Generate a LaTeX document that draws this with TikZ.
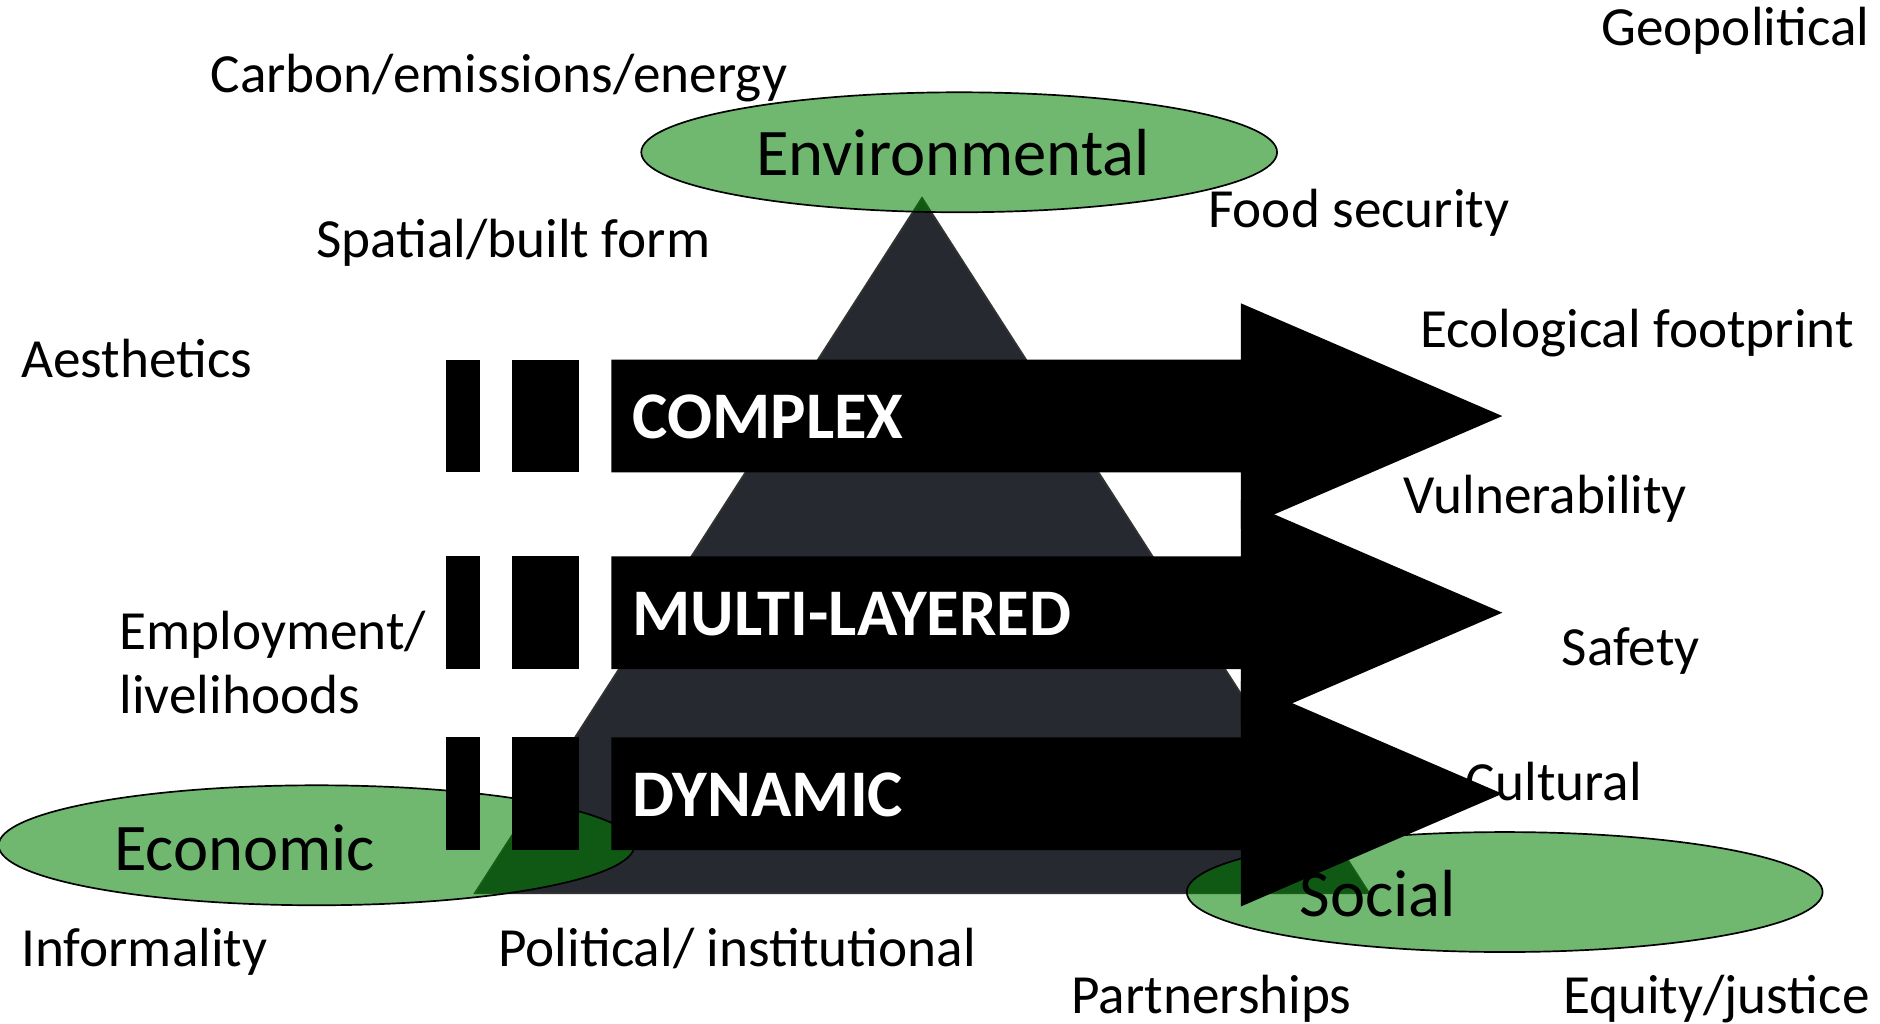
\documentclass[tikz,border=0pt]{standalone}
\usepackage{fontspec}
\setmainfont{Carlito}
\usetikzlibrary{shapes.geometric}

\definecolor{pyramid}{RGB}{38,41,48}
\definecolor{leafgreen}{RGB}{0,128,0}

\tikzset{
  sphere/.style={ellipse, draw=black, thin, fill=leafgreen, fill opacity=0.56,
    inner sep=0pt, minimum width=5.3cm, minimum height=1cm},
  factor/.style={anchor=base west, inner sep=0pt, font=\fontsize{13.1}{15}\selectfont},
  pillar/.style={anchor=base, inner sep=0pt, font=\fontsize{15.8}{18}\selectfont},
  barlabel/.style={anchor=base west, inner sep=0pt, text=white,
    font=\bfseries\fontsize{15.8}{18}\selectfont}
}

\begin{document}
\begin{tikzpicture}[x=0.01cm,y=-0.01cm]
  \useasboundingbox (0,0) rectangle (1568,854);

  %pyramid
  \coordinate (apex) at (769,165);
  \coordinate (baseR) at (1142,745);
  \coordinate (baseL) at (396,745);
  \draw[fill=pyramid,draw=black!80] (apex) -- (baseR) -- (baseL) -- cycle;

  %pillars
  \node[sphere] (envEll) at (800,127) {};
  \node[sphere] (ecoEll) at (264,705) {};
  \node[sphere] (socEll) at (1255,744) {};
  \node[pillar] (env) at (795,146) {Environmental};
  \node[pillar] (eco) at (204,726) {Economic};
  \node[pillar] (soc) at (1149,764) {Social};

  %factors
  \node[factor] (geo) at (1335,38) {Geopolitical};
  \node[factor] (carbon) at (175,77) {Carbon/emissions/energy};
  \node[factor] (food) at (1007,190) {Food security};
  \node[factor] (spatial) at (263,215) {Spatial/built form};
  \node[factor] (aesth) at (17,315) {Aesthetics};
  \node[factor] (footprint) at (1184,290) {Ecological footprint};
  \node[factor] (vuln) at (1170,428) {Vulnerability};
  \node[factor] (employ) at (99,542) {Employment/};
  \node[factor] (liveli) at (99,595) {livelihoods};
  \node[factor] (safety) at (1302,555) {Safety};
  \node[factor] (cultural) at (1222,668) {Cultural};
  \node[factor] (informal) at (17,806) {Informality};
  \node[factor] (political) at (415,806) {Political/ institutional};
  \node[factor] (partner) at (893,845) {Partnerships};
  \node[factor] (equity) at (1303,845) {Equity/justice};

  %striped arrows
  \foreach \yc/\nm/\txt in {347/complex/COMPLEX, 511/multi/MULTI-LAYERED, 662/dynamic/DYNAMIC}{
    \fill (372,\yc-47) rectangle (400,\yc+47);
    \fill (427,\yc-47) rectangle (483,\yc+47);
    \fill (510,\yc-47) -- (1035,\yc-47) -- (1035,\yc-94) -- (1253,\yc)
      -- (1035,\yc+94) -- (1035,\yc+47) -- (510,\yc+47) -- cycle;
    \node[barlabel] (\nm) at (527,\yc+19) {\txt};
  }
\end{tikzpicture}
\end{document}
